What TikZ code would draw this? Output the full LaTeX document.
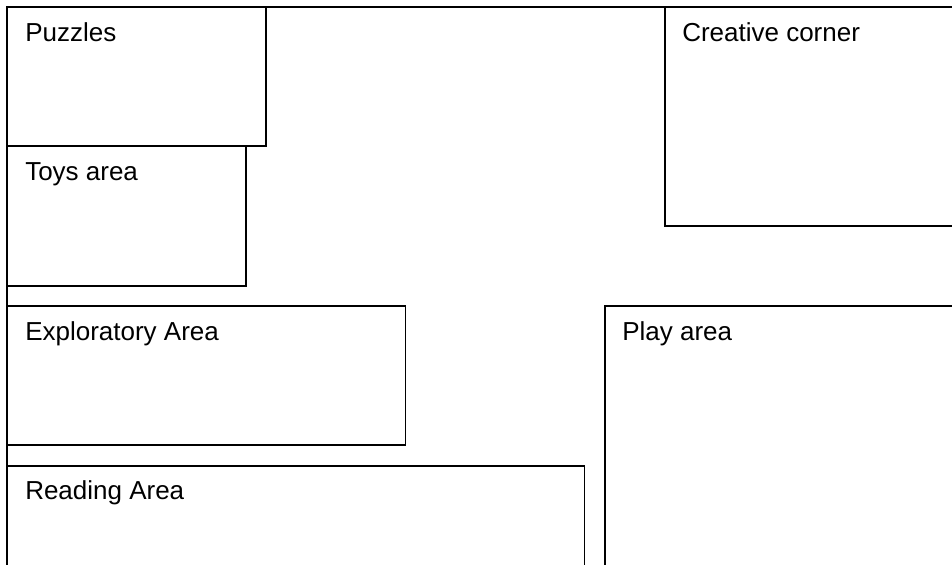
\documentclass[tikz,border=0pt]{standalone}
\usepackage{fontspec}
\setmainfont{Liberation Sans}
\begin{document}
\begin{tikzpicture}[x=0.75pt,y=-0.75pt,
  zone/.style={draw=black,line width=1pt},
  zonelabel/.style={anchor=base west,inner sep=0pt,font=\fontsize{19.5}{23}\selectfont},
  frame/.style={draw=black,line width=1.2pt}]
\useasboundingbox (0,0) rectangle (952,564);
\clip (0,0) rectangle (952,564);
\fill[white] (0,0) rectangle (952,564);
% outer frame (top and left walls)
\draw[frame] (952,7) -- (7,7) -- (7,570);
% zones
\draw[zone] (7,7) rectangle (266,146);
\draw[zone] (7,146) rectangle (246,286);
\draw[zone] (7,306) rectangle (405.5,445);
\draw[zone] (7,466) rectangle (584.5,580);
\draw[zone] (605,306) rectangle (960,580);
\draw[zone] (665,7) rectangle (960,226);
% labels
\node[zonelabel] (puzzles) at (25,41.5) {Puzzles};
\node[zonelabel] (toys) at (25,180.5) {Toys area};
\node[zonelabel] (explore) at (25,340) {Exploratory Area};
\node[zonelabel] (reading) at (25,499.5) {Reading Area};
\node[zonelabel] (play) at (622,340) {Play area};
\node[zonelabel] (creative) at (682,41.5) {Creative corner};
\end{tikzpicture}
\end{document}
